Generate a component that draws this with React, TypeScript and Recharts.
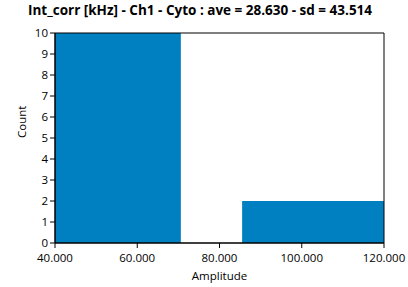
import React from 'react';
import {
  ComposedChart,
  XAxis,
  YAxis,
  ReferenceArea,
  Line
} from 'recharts';

// histogram bins
const binStarts = [40, 85.5];
const binEnds = [70.6, 120];
const binCounts = [10, 2];

const xTicks = [40, 60, 80, 100, 120];
const yTicks = [0, 1, 2, 3, 4, 5, 6, 7, 8, 9, 10];

const title = 'Int_corr [kHz] - Ch1 - Cyto : ave = 28.630 - sd = 43.514';

const barColor = '#0080c0';
const font = '"Open Sans", sans-serif';

const data = binStarts.map((x0, i) => ({ x0, x1: binEnds[i], count: binCounts[i] }));

// draw every x tick label ourselves so none get dropped
const XTick = (props: any) => {
  const { x, y, payload } = props;
  return (
    <text x={x} y={y + 12} textAnchor="middle" fontSize={11.5} fill="#000" fontFamily={font}>
      {Number(payload.value).toFixed(3)}
    </text>
  );
};

const App: React.FC = () => {
  return (
    <div style={{ position: 'absolute', left: 0, top: 0, width: 408, height: 287, background: '#fff', fontFamily: font }}>
      <div
        style={{
          position: 'absolute',
          left: 0,
          top: 1,
          width: 400,
          textAlign: 'center',
          fontWeight: 'bold',
          fontSize: 13.5,
          color: '#000'
        }}
      >
        {title}
      </div>
      <ComposedChart
        width={408}
        height={287}
        data={data}
        margin={{ top: 33, right: 24, left: 0, bottom: 0 }}
      >
        <XAxis
          dataKey="x0"
          type="number"
          domain={[40, 120]}
          ticks={xTicks}
          interval={0}
          minTickGap={0}
          allowDataOverflow
          tick={<XTick />}
          stroke="#000"
          tickSize={5}
          height={44}
          label={{ value: 'Amplitude', position: 'insideBottom', offset: 7, fill: '#000', fontSize: 11.5, fontFamily: font }}
        />
        <YAxis
          type="number"
          domain={[0, 10]}
          ticks={yTicks}
          interval={0}
          allowDataOverflow
          tick={{ fontSize: 11.5, fill: '#000', fontFamily: font }}
          stroke="#000"
          tickSize={5}
          width={55}
          label={{ value: 'Count', angle: -90, position: 'insideLeft', offset: 22, fill: '#000', fontSize: 11.5, fontFamily: font }}
        />
        {data.map((b, i) => (
          <ReferenceArea
            key={`bin-${i}`}
            x1={b.x0}
            x2={b.x1}
            y1={0}
            y2={b.count}
            fill={barColor}
            fillOpacity={1}
            stroke="none"
            ifOverflow="hidden"
          />
        ))}
        <ReferenceArea x1={40} x2={120} y1={0} y2={10} fill="none" stroke="#000" strokeWidth={1} />
        <Line dataKey="count" stroke="none" dot={false} isAnimationActive={false} legendType="none" />
      </ComposedChart>
    </div>
  );
};

export default App;
